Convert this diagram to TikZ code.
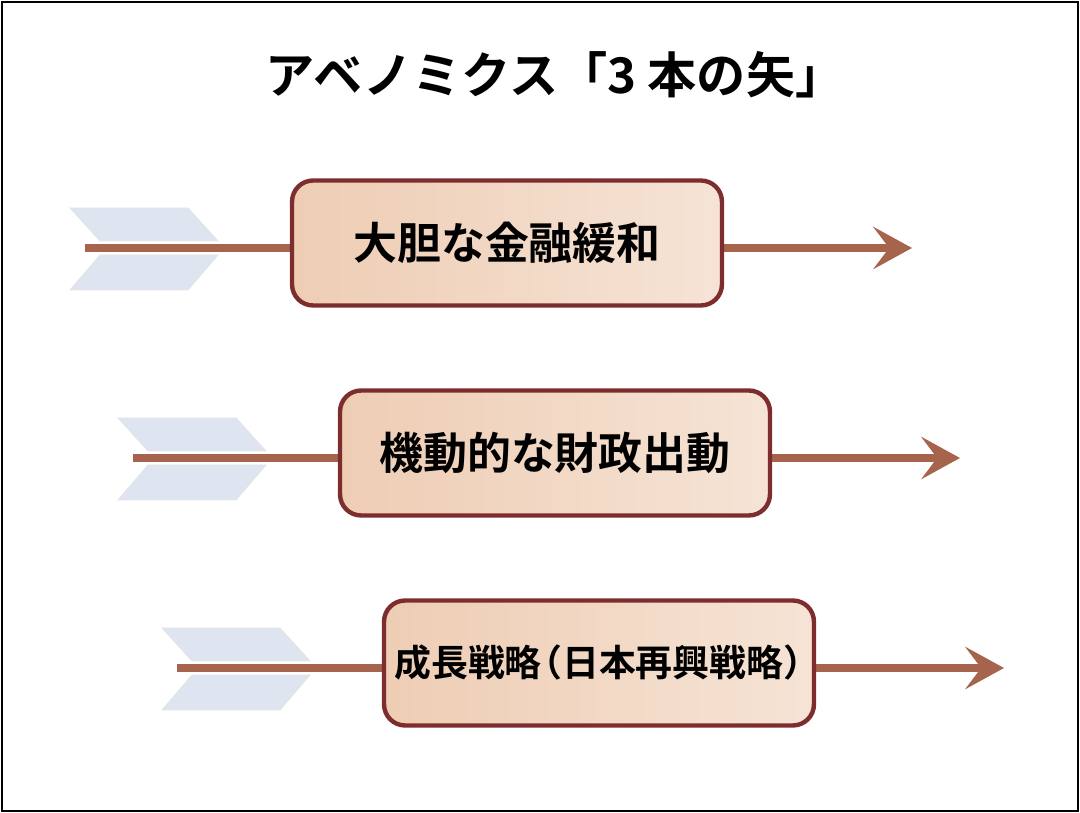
\documentclass[tikz,border=0pt]{standalone}
\usepackage{fontspec}
\newfontfamily\jpfont{Noto Sans CJK JP}[BoldFont={* Bold}]
\usetikzlibrary{arrows.meta}
\definecolor{shaftbrown}{RGB}{165,100,75}
\definecolor{boxedge}{RGB}{125,45,45}
\definecolor{boxfill}{RGB}{238,205,180}
\definecolor{vanecol}{RGB}{222,228,240}
\tikzset{
  vane/.style={fill=vanecol, draw=white!80!gray, line width=0.5pt},
  shaft/.style={shaftbrown, line width=5pt, -{Stealth[length=22pt,width=24pt,inset=9pt]}},
  arrowbox/.style={draw=boxedge, line width=2.5pt, rounded corners=12pt,
    left color=boxfill, right color=boxfill!55!white,
    minimum width=8.6cm, minimum height=2.5cm, font=\jpfont\bfseries\fontsize{25}{30}\selectfont},
}
\begin{document}
\begin{tikzpicture}[x=0.02cm,y=-0.02cm]
\useasboundingbox (0,0) rectangle (1080,813);
\draw[line width=1pt] (2,2) rectangle (1078,811);

% title
\node[font=\jpfont\bfseries\fontsize{28}{32}\selectfont] (title) at (555,75) {アベノミクス「3 本の矢」};

% three arrows
\foreach \dx/\dy/\txt/\id in {0/248/大胆な金融緩和/a, 48/458/機動的な財政出動/b, 92/668/{\fontsize{21}{26}\selectfont 成長戦略\kern-0.45em（日本再興戦略）\kern-0.45em}/c}{
  \begin{scope}[xshift=\dx*0.02cm]
    \fill[vane] (70,\dy-40) -- (188,\dy-40) -- (218,\dy-7) -- (100,\dy-7) -- cycle;
    \fill[vane] (100,\dy+7) -- (218,\dy+7) -- (188,\dy+42) -- (70,\dy+42) -- cycle;
    \coordinate (tail\id) at (85,\dy);
    \coordinate (tip\id) at (912,\dy);
    \draw[shaft] (tail\id) -- (tip\id);
    \node[arrowbox] (box\id) at (507,\dy-5) {\txt};
  \end{scope}
}
\end{tikzpicture}
\end{document}
